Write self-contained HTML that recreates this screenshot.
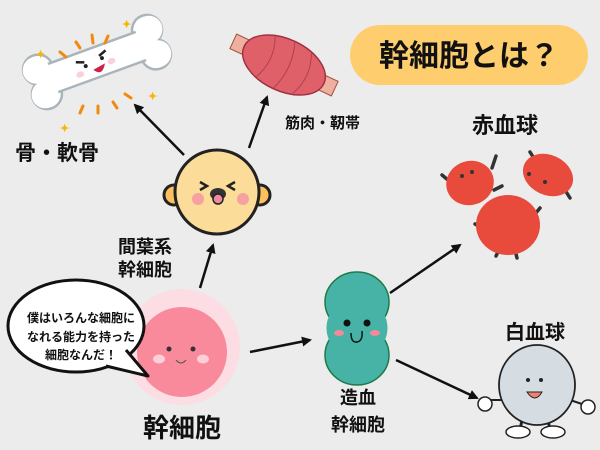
<!DOCTYPE html>
<html><head><meta charset="utf-8"><style>
html,body{margin:0;padding:0;background:#ececec;}
svg{display:block}
text{font-family:"Liberation Sans","Noto Sans CJK JP",sans-serif;font-weight:bold;fill:#111}
</style></head><body>
<svg width="600" height="450" viewBox="0 0 600 450" xmlns="http://www.w3.org/2000/svg">
<defs>
<marker id="ah" markerWidth="10" markerHeight="10" refX="8" refY="5" orient="auto" markerUnits="userSpaceOnUse">
<path d="M0,0 L10,5 L0,10 Z" fill="#111"/></marker>
</defs>
<rect width="600" height="450" fill="#ececec"/>
<!-- title -->
<rect x="350" y="25" width="238" height="60" rx="30" fill="#fecd6e"/>
<text x="469" y="66" font-size="30" text-anchor="middle">幹細胞とは？</text>

<!-- bone -->
<g transform="translate(97,62) rotate(-20)">
<g fill="#fff" stroke="#aab4bb" stroke-width="2.5">
<circle cx="-58" cy="-13" r="15"/><circle cx="-58" cy="13" r="15"/>
<circle cx="58" cy="-13" r="15"/><circle cx="58" cy="13" r="15"/>
<rect x="-58" y="-15" width="116" height="30"/>
</g>
<rect x="-60" y="-13.5" width="120" height="27" fill="#fff"/>
<circle cx="-60" cy="-13" r="13.5" fill="#fff"/><circle cx="-60" cy="13" r="13.5" fill="#fff"/>
<circle cx="60" cy="-13" r="13.5" fill="#fff"/><circle cx="60" cy="13" r="13.5" fill="#fff"/>
<path d="M-20,-7 l8,3 M12,-8 l-8,3" stroke="#222" stroke-width="2.5"/>
<circle cx="-12" cy="0" r="2" fill="#222"/><circle cx="6" cy="-2" r="2" fill="#222"/>
<ellipse cx="-20" cy="6" rx="4" ry="3" fill="#fcd0d8"/><ellipse cx="14" cy="4" rx="4" ry="3" fill="#fcd0d8"/>
<path d="M-6,6 Q0,16 7,4 Z" fill="#d0204a"/>
</g>
<g stroke="#f08a10" stroke-width="3" stroke-linecap="round">
<line x1="60" y1="52" x2="66" y2="57"/><line x1="76" y1="42" x2="80" y2="48"/><line x1="92" y1="35" x2="93" y2="43"/><line x1="108" y1="36" x2="105" y2="43"/>
<line x1="125" y1="94" x2="131" y2="98"/><line x1="113" y1="102" x2="117" y2="108"/><line x1="98" y1="106" x2="98" y2="113"/><line x1="83" y1="106" x2="80" y2="113"/>
</g>
<g font-size="11"><text x="36" y="58" style="fill:#f5b800">✦</text><text x="122" y="28" style="fill:#f5b800">✦</text><text x="148" y="100" style="fill:#f5b800">✦</text><text x="60" y="132" style="fill:#f5b800">✦</text></g>
<text x="15" y="160" font-size="21">骨・軟骨</text>

<!-- muscle -->
<g transform="translate(284,65) rotate(25)">
<rect x="-56" y="-8" width="16" height="16" fill="#f0b0a0" stroke="#a05040"/>
<rect x="40" y="-8" width="16" height="16" fill="#f0b0a0" stroke="#a05040"/>
<ellipse cx="0" cy="0" rx="44" ry="26" fill="#e0606a" stroke="#a03040" stroke-width="1.5"/>
<path d="M-20,-22 Q-10,0 -20,22 M0,-26 Q10,0 0,26 M20,-22 Q30,0 20,22" stroke="#b04050" fill="none"/>
</g>
<text x="285" y="128" font-size="15">筋肉・靭帯</text>

<!-- arrows -->
<line x1="184" y1="155" x2="135" y2="105" stroke="#111" stroke-width="2.5" marker-end="url(#ah)"/>
<line x1="249" y1="148" x2="267" y2="97" stroke="#111" stroke-width="2.5" marker-end="url(#ah)"/>
<line x1="200" y1="288" x2="213" y2="245" stroke="#111" stroke-width="2.5" marker-end="url(#ah)"/>
<line x1="250" y1="352" x2="310" y2="340" stroke="#111" stroke-width="2.5" marker-end="url(#ah)"/>
<line x1="390" y1="293" x2="460" y2="245" stroke="#111" stroke-width="2.5" marker-end="url(#ah)"/>
<line x1="396" y1="360" x2="477" y2="398" stroke="#111" stroke-width="2.5" marker-end="url(#ah)"/>

<!-- yellow cell -->
<circle cx="174" cy="195" r="10" fill="#fbc15e" stroke="#222" stroke-width="3"/>
<circle cx="260" cy="195" r="10" fill="#fbc15e" stroke="#222" stroke-width="3"/>
<circle cx="217" cy="192" r="42" fill="#fbdc98" stroke="#222" stroke-width="3"/>
<circle cx="198" cy="199" r="6" fill="#f7a0a0"/><circle cx="243" cy="199" r="6" fill="#f7a0a0"/>
<path d="M200,182 l7,4 l-7,4 M235,182 l-7,4 l7,4" stroke="#222" stroke-width="2.5" fill="none"/>
<ellipse cx="218" cy="194" rx="8" ry="6" fill="#333"/><ellipse cx="218" cy="199" rx="5" ry="5" fill="#f08aa0" stroke="#222" stroke-width="1.5"/>
<text x="118" y="253" font-size="18">間葉系</text>
<text x="118" y="276" font-size="18">幹細胞</text>

<!-- stem cell -->
<circle cx="182" cy="347" r="58" fill="#fcdde4"/>
<circle cx="182" cy="352" r="45" fill="#f98a9c"/>
<circle cx="169" cy="349" r="2.5" fill="#333"/><circle cx="193" cy="349" r="2.5" fill="#333"/>
<ellipse cx="159" cy="359" rx="6" ry="4.5" fill="#fcd0d8"/><ellipse cx="203" cy="359" rx="6" ry="4.5" fill="#fcd0d8"/>
<path d="M176,360 Q181,366 186,360" stroke="#555" fill="none"/>
<ellipse cx="76" cy="326" rx="68" ry="46" fill="#fff" stroke="#111" stroke-width="3"/>
<path d="M126,350 L148,376 L106,366" fill="#fff" stroke="#111" stroke-width="3" stroke-linejoin="round"/>
<text x="81" y="322" font-size="12" text-anchor="middle">僕はいろんな細胞に</text>
<text x="81" y="341" font-size="12" text-anchor="middle">なれる能力を持った</text>
<text x="81" y="359" font-size="12" text-anchor="middle">細胞なんだ！</text>
<text x="182" y="437" font-size="26" text-anchor="middle">幹細胞</text>

<!-- green -->
<g fill="#47b2a6" stroke="#1f7a4a" stroke-width="1.5">
<ellipse cx="357" cy="302" rx="32" ry="30"/><ellipse cx="357" cy="355" rx="32" ry="30"/></g>
<ellipse cx="357" cy="328" rx="30.5" ry="30" fill="#47b2a6"/>
<circle cx="347" cy="323" r="3.5" fill="#111"/><circle cx="367" cy="323" r="3.5" fill="#111"/>
<ellipse cx="339" cy="333" rx="5" ry="3" fill="#f28a9a"/><ellipse cx="375" cy="333" rx="5" ry="3" fill="#f28a9a"/>
<path d="M351,333 Q351,343 357,342 Q363,341 362,331" stroke="#111" stroke-width="1.5" fill="none"/>
<text x="358" y="404" font-size="18" text-anchor="middle">造血</text>
<text x="358" y="431" font-size="18" text-anchor="middle">幹細胞</text>

<!-- RBCs -->
<text x="505" y="133" font-size="22" text-anchor="middle">赤血球</text>
<g stroke="#333" stroke-width="3.5" stroke-linecap="round" fill="none">
<path d="M448,180 l-6,-5 M492,168 l4,-12 M494,190 l8,-4 M535,160 l-5,-8 M565,190 l5,8 M485,230 l-10,-6 M530,220 l10,-12 M500,248 l-4,8 M515,250 l2,8"/>
</g>
<g fill="#e84a3c">
<ellipse cx="470" cy="183" rx="24" ry="22" transform="rotate(-20 470 183)"/>
<ellipse cx="548" cy="175" rx="26" ry="20" transform="rotate(25 548 175)"/>
<ellipse cx="508" cy="225" rx="32" ry="30"/>
</g>
<g fill="#333"><circle cx="462" cy="176" r="2"/><circle cx="472" cy="172" r="2"/><circle cx="529" cy="174" r="2"/><circle cx="545" cy="182" r="2"/></g>

<!-- WBC -->
<text x="535" y="339" font-size="20" text-anchor="middle">白血球</text>
<line x1="522" y1="420" x2="520" y2="430" stroke="#222" stroke-width="3"/><line x1="548" y1="420" x2="550" y2="430" stroke="#222" stroke-width="3"/>
<ellipse cx="518" cy="432" rx="12" ry="6" fill="#fff" stroke="#222" stroke-width="1.5"/><ellipse cx="553" cy="432" rx="12" ry="6" fill="#fff" stroke="#222" stroke-width="1.5"/>
<line x1="505" y1="400" x2="488" y2="400" stroke="#222" stroke-width="2"/><line x1="570" y1="400" x2="585" y2="405" stroke="#222" stroke-width="2"/>
<circle cx="485" cy="404" r="7" fill="#fff" stroke="#222" stroke-width="1.5"/><circle cx="588" cy="407" r="7" fill="#fff" stroke="#222" stroke-width="1.5"/>
<ellipse cx="537" cy="385" rx="38" ry="40" fill="#d5dde3" stroke="#222" stroke-width="1.8"/>
<circle cx="528" cy="380" r="2" fill="#222"/><circle cx="541" cy="380" r="2" fill="#222"/>
<path d="M527,392 Q535,404 542,392 Z" fill="#f08070" stroke="#222"/>
</svg>
</body></html>
